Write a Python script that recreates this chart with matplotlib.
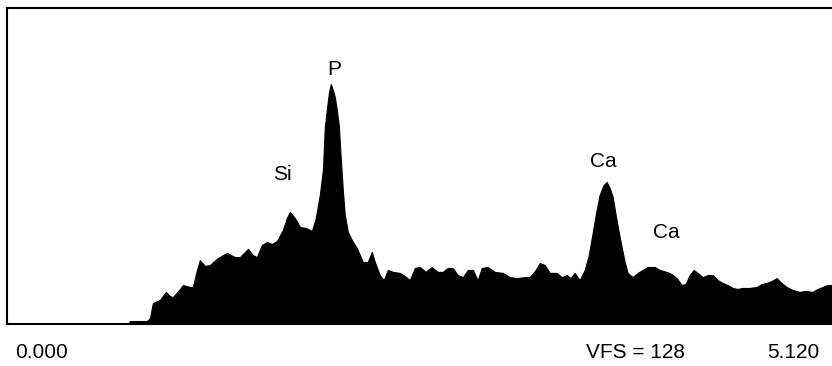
import numpy as np
import matplotlib.pyplot as plt

plt.rcParams['font.family'] = ['Liberation Sans', 'DejaVu Sans']

# EDS spectrum: energy (keV) and counts (VFS = 128)
energy = [0.000, 0.753, 0.759, 0.864, 0.883, 0.901, 0.944, 0.981, 1.006, 1.025,
          1.068, 1.086, 1.130, 1.148, 1.173, 1.191, 1.222, 1.253, 1.302, 1.358,
          1.407, 1.438, 1.488, 1.519, 1.543, 1.574, 1.605, 1.636, 1.667, 1.704,
          1.728, 1.747, 1.778, 1.809, 1.846, 1.883, 1.907, 1.932, 1.951, 1.963,
          1.975, 1.988, 2.000, 2.012, 2.025, 2.037, 2.049, 2.062, 2.074, 2.086,
          2.105, 2.130, 2.160, 2.198, 2.228, 2.253, 2.272, 2.302, 2.327, 2.352,
          2.383, 2.426, 2.457, 2.488, 2.519, 2.549, 2.586, 2.623, 2.660, 2.691,
          2.722, 2.753, 2.784, 2.815, 2.846, 2.877, 2.907, 2.932, 2.969, 3.012,
          3.062, 3.105, 3.148, 3.198, 3.228, 3.265, 3.290, 3.321, 3.352, 3.395,
          3.426, 3.457, 3.481, 3.506, 3.537, 3.568, 3.593, 3.617, 3.636, 3.660,
          3.685, 3.704, 3.722, 3.741, 3.759, 3.778, 3.796, 3.815, 3.833, 3.864,
          3.895, 3.926, 3.957, 4.000, 4.031, 4.074, 4.105, 4.136, 4.167, 4.191,
          4.216, 4.241, 4.265, 4.296, 4.327, 4.358, 4.389, 4.420, 4.451, 4.481,
          4.512, 4.543, 4.586, 4.630, 4.660, 4.691, 4.722, 4.753, 4.784, 4.815,
          4.852, 4.895, 4.932, 4.975, 5.006, 5.037, 5.068, 5.093, 5.120]
counts = [0.0, 0.0, 1.2, 1.2, 2.4, 8.5, 9.7, 13.0, 11.3, 10.9,
          14.2, 15.8, 15.0, 15.0, 21.9, 25.9, 23.5, 23.9, 26.7, 28.8,
          27.1, 27.1, 30.4, 27.9, 27.1, 32.0, 33.2, 32.4, 33.6, 38.1,
          42.9, 45.4, 42.9, 39.3, 38.9, 37.7, 42.9, 52.3, 62.4, 79.8,
          86.7, 93.6, 97.2, 94.8, 91.9, 86.7, 80.6, 66.4, 54.3, 44.2,
          37.3, 34.0, 30.8, 25.1, 25.1, 29.2, 25.1, 19.8, 17.8, 21.9,
          21.1, 20.7, 19.4, 17.8, 22.7, 23.1, 21.1, 23.1, 21.1, 21.1,
          22.7, 22.7, 19.8, 19.0, 21.9, 21.9, 17.8, 22.7, 23.1, 21.1,
          20.7, 19.0, 18.6, 19.0, 19.0, 21.9, 24.7, 23.9, 20.7, 20.7,
          19.0, 19.8, 18.6, 20.7, 17.8, 21.9, 27.9, 36.9, 44.2, 52.3,
          56.3, 57.5, 55.1, 51.4, 44.2, 37.3, 31.2, 25.1, 20.7, 19.0,
          20.7, 21.9, 23.1, 23.1, 21.9, 21.1, 20.2, 18.6, 15.8, 16.2,
          19.8, 21.9, 20.7, 19.0, 19.8, 19.8, 17.8, 16.6, 15.8, 14.6,
          14.2, 14.6, 14.6, 15.0, 16.2, 16.6, 17.4, 18.6, 16.6, 15.0,
          13.8, 13.0, 13.4, 13.0, 14.2, 15.0, 15.8, 15.8, 15.8]

# peak labels: text, energy, counts at the baseline of the label
peak_labels = ["Si", "P", "Ca", "Ca"]
peak_x = [1.70, 2.02, 3.68, 4.07]
peak_y = [56.8, 99.3, 62.0, 33.3]

W, H = 832, 366
fig = plt.figure(figsize=(W / 100, H / 100), dpi=100)
ax = fig.add_axes([7 / W, (H - 324) / H, 829 / W, 316 / H])

ax.fill_between(energy, counts, 0, color='black', linewidth=0.8, edgecolor='black')
ax.set_xlim(0, 5.12)
ax.set_ylim(0, 128)
ax.set_xticks([])
ax.set_yticks([])
for side in ['left', 'top', 'bottom']:
    ax.spines[side].set_linewidth(1.5)
ax.spines['right'].set_visible(False)

for lab, x, y in zip(peak_labels, peak_x, peak_y):
    ax.text(x, y, lab, ha='center', va='bottom', fontsize=15)

fig.text(15 / W, (H - 352) / H, "0.000", ha='left', va='center', fontsize=15)
fig.text(636 / W, (H - 352) / H, "VFS = 128", ha='center', va='center', fontsize=15)
fig.text(819 / W, (H - 352) / H, "5.120", ha='right', va='center', fontsize=15)

fig.savefig("out.png", dpi=100, facecolor='white')
